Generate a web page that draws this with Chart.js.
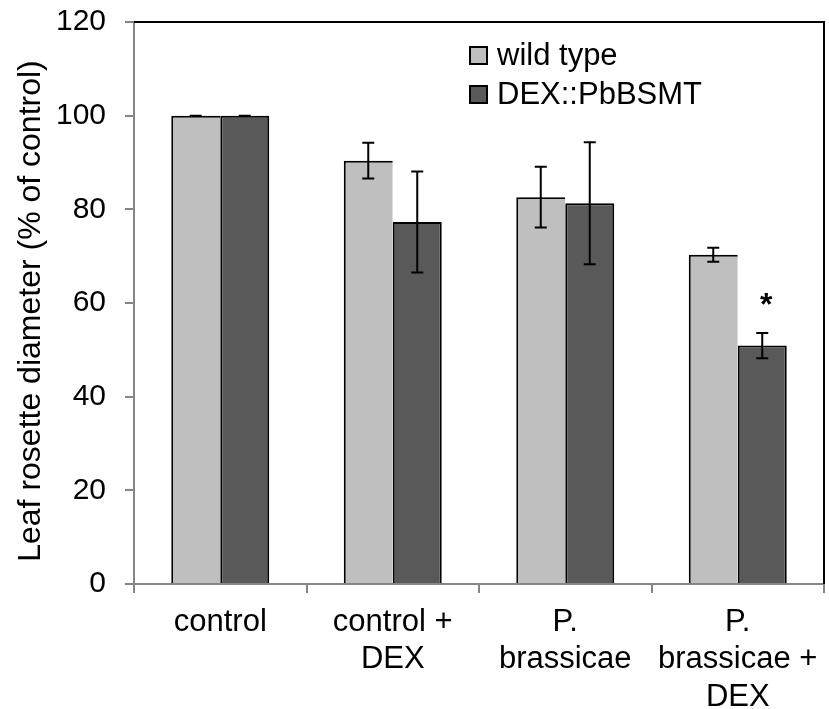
<!DOCTYPE html>
<html>
<head>
<meta charset="utf-8">
<title>Leaf rosette diameter</title>
<script src="https://cdn.jsdelivr.net/npm/chart.js@4.4.1/dist/chart.umd.min.js"></script>
<style>
	html, body { margin: 0; padding: 0; background: #fff; }
	#wrap { width: 829px; height: 709px; }
</style>
</head>
<body>
<div id="wrap"><canvas id="rosetteChart" width="829" height="709"></canvas></div>
<script>
// 처리군 (x축)
var categories = [['control'], ['control +', 'DEX'], ['P.', 'brassicae'], ['P.', 'brassicae +', 'DEX']];
var seriesNames = ['wild type', 'DEX::PbBSMT'];

// 대조군 대비 로제트 지름 (%) 와 오차
var wildType = [100, 90.4, 82.6, 70.3];
var wildTypeErr = [0, 3.8, 6.5, 1.5];
var dexLine = [100, 77.3, 81.3, 50.9];
var dexLineErr = [0, 10.8, 13.0, 2.7];
var dexMarks = ['', '', '', '*']; // 유의차 표시

// y축 눈금
var yTicks = [0, 20, 40, 60, 80, 100, 120];

var FONT = 'Liberation Sans, Arial, sans-serif';
var AXIS_GRAY = '#868686';

Chart.defaults.font.family = FONT;
Chart.defaults.color = '#000';

// 오차 막대 + 유의차 별표
var errorBarPlugin = {
	id: 'errorBars',
	afterDatasetsDraw: function(chart) {
		var ctx = chart.ctx;
		var yScale = chart.scales.y;
		var errs = [wildTypeErr, dexLineErr];
		ctx.save();
		ctx.strokeStyle = '#000';
		ctx.lineWidth = 2;
		chart.data.datasets.forEach(function(ds, d) {
			var meta = chart.getDatasetMeta(d);
			meta.data.forEach(function(bar, i) {
				var v = ds.data[i];
				var e = errs[d][i];
				var yHi = yScale.getPixelForValue(v + e);
				var yLo = yScale.getPixelForValue(v - e);
				ctx.beginPath();
				ctx.moveTo(bar.x, yHi);
				ctx.lineTo(bar.x, yLo);
				ctx.moveTo(bar.x - 6, yHi);
				ctx.lineTo(bar.x + 6, yHi);
				ctx.moveTo(bar.x - 6, yLo);
				ctx.lineTo(bar.x + 6, yLo);
				ctx.stroke();

				if (d === 1 && dexMarks[i]) {
					ctx.fillStyle = '#000';
					ctx.font = 'bold 32px ' + FONT;
					ctx.textAlign = 'center';
					ctx.textBaseline = 'alphabetic';
					ctx.fillText(dexMarks[i], bar.x + 4, yHi - 18);
				}
			});
		});
		ctx.restore();
	}
};

// 위쪽/오른쪽 테두리, y축 제목, 범례
var framePlugin = {
	id: 'frame',
	afterDraw: function(chart) {
		var ctx = chart.ctx;
		var a = chart.chartArea;
		ctx.save();

		ctx.strokeStyle = '#000';
		ctx.lineWidth = 2;
		ctx.beginPath();
		ctx.moveTo(a.left, a.top);
		ctx.lineTo(a.right, a.top);
		ctx.lineTo(a.right, a.bottom);
		ctx.stroke();

		// y축 제목
		ctx.fillStyle = '#000';
		ctx.font = '32px ' + FONT;
		ctx.textAlign = 'center';
		ctx.textBaseline = 'middle';
		ctx.translate(31, (a.top + a.bottom) / 2 + 8);
		ctx.rotate(-Math.PI / 2);
		ctx.fillText('Leaf rosette diameter (% of control)', 0, 0);
		ctx.setTransform(1, 0, 0, 1, 0, 0);

		// 범례
		ctx.font = '31px ' + FONT;
		ctx.textAlign = 'left';
		ctx.textBaseline = 'alphabetic';
		chart.data.datasets.forEach(function(ds, d) {
			var bx = 470, by = 47 + d * 39;
			ctx.fillStyle = ds.backgroundColor;
			ctx.fillRect(bx, by, 17, 17);
			ctx.lineWidth = 2;
			ctx.strokeStyle = '#000';
			ctx.strokeRect(bx, by, 17, 17);
			ctx.fillStyle = '#000';
			ctx.fillText(ds.label, bx + 27, by + 18);
		});
		ctx.restore();
	}
};

var ctx = document.getElementById('rosetteChart').getContext('2d');
var rosetteChart = new Chart(ctx, {
	type: 'bar',
	data: {
		labels: categories,
		datasets: [{
			label: seriesNames[0],
			data: wildType,
			backgroundColor: '#BFBFBF',
			borderColor: '#000',
			borderWidth: { top: 2, left: 2, right: 0, bottom: 0 },
			borderSkipped: false
		}, {
			label: seriesNames[1],
			data: dexLine,
			backgroundColor: '#595959',
			borderColor: '#000',
			borderWidth: { top: 2, left: 2, right: 2, bottom: 0 },
			borderSkipped: false
		}]
	},
	options: {
		responsive: false,
		animation: false,
		devicePixelRatio: 1,
		categoryPercentage: 0.568,
		barPercentage: 1,
		layout: { padding: { top: 22, right: 5, left: 0, bottom: 0 } },
		plugins: {
			legend: { display: false },
			tooltip: { enabled: false }
		},
		scales: {
			x: {
				afterFit: function(scale) {
					scale.height = 125;
					scale.paddingLeft = 0;
					scale.paddingRight = 0;
				},
				grid: {
					offset: true,
					drawOnChartArea: false,
					drawTicks: true,
					tickLength: 9,
					color: AXIS_GRAY,
					lineWidth: 2
				},
				border: { color: AXIS_GRAY, width: 2 },
				ticks: {
					maxRotation: 0,
					autoSkip: false,
					padding: 11,
					font: { size: 31 },
					color: '#000'
				}
			},
			y: {
				min: yTicks[0],
				max: yTicks[yTicks.length - 1],
				afterFit: function(scale) {
					scale.width = 134;
					scale.paddingTop = 0;
					scale.paddingBottom = 0;
				},
				grid: {
					drawOnChartArea: false,
					drawTicks: true,
					tickLength: 9,
					color: AXIS_GRAY,
					lineWidth: 2
				},
				border: { color: AXIS_GRAY, width: 2 },
				ticks: {
					stepSize: yTicks[1] - yTicks[0],
					padding: 19,
					font: { size: 30 },
					color: '#000'
				}
			}
		}
	},
	plugins: [errorBarPlugin, framePlugin]
});
</script>
</body>
</html>
